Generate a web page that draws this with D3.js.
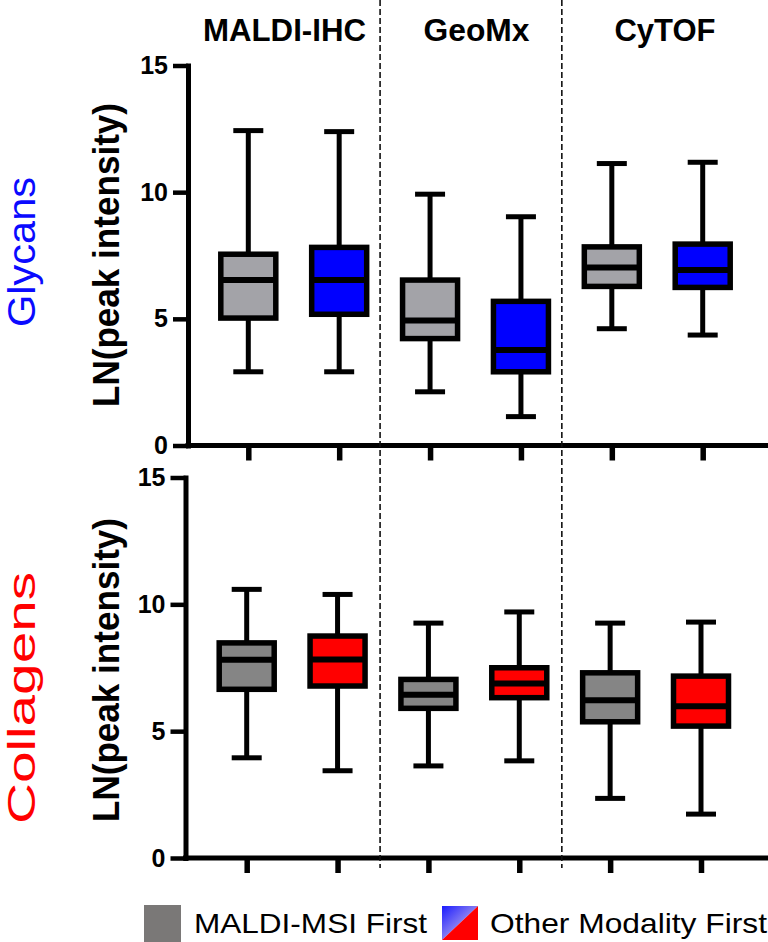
<!DOCTYPE html>
<html><head><meta charset="utf-8">
<script src="https://cdn.jsdelivr.net/npm/d3@7"></script>
<style>body{margin:0;background:#fff}svg{display:block}text{font-family:"Liberation Sans",Arial,sans-serif}</style>
</head><body>
<div id="chart"></div>
<script>
// ---- data ----
const modalities = ["MALDI-IHC", "GeoMx", "CyTOF"];
const orders = ["MALDI-MSI First", "Other Modality First"];
const categories = ["MALDI-IHC|MSI", "MALDI-IHC|Other", "GeoMx|MSI", "GeoMx|Other", "CyTOF|MSI", "CyTOF|Other"];
const panels = ["Glycans", "Collagens"];
const yTicks = [0, 5, 10, 15];

const glycanMin    = [2.91, 2.91, 2.12, 1.14, 4.61, 4.36];
const glycanQ1     = [5.03, 5.18, 4.22, 2.91, 6.28, 6.24];
const glycanMedian = [6.53, 6.53, 4.93, 3.77, 7.03, 6.93];
const glycanQ3     = [7.55, 7.82, 6.53, 5.69, 7.84, 7.95];
const glycanMax    = [12.43, 12.39, 9.92, 9.03, 11.13, 11.18];

const collagenMin    = [3.95, 3.44, 3.63, 3.83, 2.35, 1.73];
const collagenQ1     = [6.65, 6.78, 5.90, 6.32, 5.37, 5.20];
const collagenMedian = [7.82, 7.83, 6.44, 6.88, 6.22, 5.98];
const collagenQ3     = [8.48, 8.75, 7.04, 7.50, 7.30, 7.17];
const collagenMax    = [10.59, 10.39, 9.26, 9.70, 9.26, 9.30];

// ---- layout ----
const W = 768, H = 942;
const svg = d3.select("#chart").append("svg").attr("width", W).attr("height", H);

const defs = svg.append("defs");
const grad = defs.append("linearGradient").attr("id", "blueGrad")
  .attr("x1", "0%").attr("y1", "0%").attr("x2", "60%").attr("y2", "60%");
grad.append("stop").attr("offset", "0%").attr("stop-color", "#1a1aff");
grad.append("stop").attr("offset", "100%").attr("stop-color", "#9a90f0");

const panelCfg = [
  {name: "Glycans", color: "#0a0aff", grayFill: "#a3a3a8", otherFill: "#0000ff",
   yRange: [445.5, 65.5], xRange: [248.3, 702.7], axisX: 188,
   min: glycanMin, q1: glycanQ1, med: glycanMedian, q3: glycanQ3, max: glycanMax,
   nameCenter: 252, nameLen: 150, labelCenter: 255},
  {name: "Collagens", color: "#ff0000", grayFill: "#858585", otherFill: "#ff0000",
   yRange: [858, 477.5], xRange: [246.7, 701], axisX: 185.5,
   min: collagenMin, q1: collagenQ1, med: collagenMedian, q3: collagenQ3, max: collagenMax,
   nameCenter: 698, nameLen: 252, labelCenter: 670}
];

let topX = null;

panelCfg.forEach((p, pi) => {
  const y = d3.scaleLinear().domain([0, 15]).range(p.yRange);
  const x = d3.scalePoint().domain(categories).range(p.xRange);
  if (pi === 0) topX = x;
  const g = svg.append("g");

  // y axis
  const ya = g.append("g").attr("transform", `translate(${p.axisX},0)`)
    .call(d3.axisLeft(y).tickValues(yTicks).tickSize(15).tickSizeOuter(0).tickPadding(5));
  ya.select(".domain").attr("stroke", "#000").attr("stroke-width", 5).attr("stroke-linecap", "square");
  ya.selectAll(".tick line").attr("stroke", "#000").attr("stroke-width", 4.5);
  ya.selectAll(".tick text").attr("fill", "#000").style("font-size", "25px").style("font-weight", "bold")
    .style("font-family", "'Liberation Sans', Arial, sans-serif");

  // x axis
  const xa = g.append("g").attr("transform", `translate(0,${y(0)})`)
    .call(d3.axisBottom(x).tickSize(15).tickSizeOuter(0).tickFormat(""));
  xa.select(".domain").remove();
  xa.selectAll(".tick line").attr("stroke", "#000").attr("stroke-width", 5.5);
  g.append("line").attr("x1", p.axisX).attr("x2", W).attr("y1", y(0)).attr("y2", y(0))
    .attr("stroke", "#000").attr("stroke-width", 5).attr("stroke-linecap", "square");

  // boxes
  const boxW = 55, capW = 30;
  categories.forEach((c, i) => {
    const cx = x(c);
    const isOther = i % 2 === 1;
    const bg = g.append("g");
    bg.append("line").attr("x1", cx).attr("x2", cx).attr("y1", y(p.max[i])).attr("y2", y(p.q3[i]))
      .attr("stroke", "#000").attr("stroke-width", 5);
    bg.append("line").attr("x1", cx).attr("x2", cx).attr("y1", y(p.q1[i])).attr("y2", y(p.min[i]))
      .attr("stroke", "#000").attr("stroke-width", 5);
    [p.max[i], p.min[i]].forEach(v => {
      bg.append("line").attr("x1", cx - capW / 2).attr("x2", cx + capW / 2).attr("y1", y(v)).attr("y2", y(v))
        .attr("stroke", "#000").attr("stroke-width", 5);
    });
    bg.append("rect").attr("x", cx - boxW / 2).attr("width", boxW)
      .attr("y", y(p.q3[i])).attr("height", y(p.q1[i]) - y(p.q3[i]))
      .attr("fill", isOther ? p.otherFill : p.grayFill).attr("stroke", "#000").attr("stroke-width", 5.5);
    bg.append("line").attr("x1", cx - boxW / 2).attr("x2", cx + boxW / 2)
      .attr("y1", y(p.med[i])).attr("y2", y(p.med[i])).attr("stroke", "#000").attr("stroke-width", 6);
  });

  // y label
  g.append("text").attr("transform", `translate(119,${p.labelCenter}) rotate(-90)`)
    .attr("text-anchor", "middle").style("font-size", "36px").style("font-weight", "bold")
    .attr("textLength", 304).attr("lengthAdjust", "spacingAndGlyphs")
    .text("LN(peak intensity)");
  // panel name
  g.append("text").attr("transform", `translate(35,${p.nameCenter}) rotate(-90)`)
    .attr("text-anchor", "middle").attr("fill", p.color).style("font-size", "39px")
    .attr("textLength", p.nameLen).attr("lengthAdjust", "spacingAndGlyphs")
    .text(p.name);
});

// group dividers
const step = topX.step();
[1, 3].forEach(i => {
  const xv = topX(categories[i]) + step * 0.45;
  svg.append("line").attr("x1", xv).attr("x2", xv).attr("y1", 0).attr("y2", 868)
    .attr("stroke", "#111").attr("stroke-width", 1.6).attr("stroke-dasharray", "6,3");
});

// group titles
const titleCenters = [284.5, 476.5, 665];
const titleLens = [163, 106, 101];
modalities.forEach((m, i) => {
  svg.append("text").attr("x", titleCenters[i]).attr("y", 41).attr("text-anchor", "middle")
    .style("font-size", "31px").style("font-weight", "bold")
    .attr("textLength", titleLens[i]).attr("lengthAdjust", "spacingAndGlyphs").text(m);
});

// legend
const lg = svg.append("g");
lg.append("rect").attr("x", 144).attr("y", 905).attr("width", 37).attr("height", 37).attr("fill", "#7a7877");
lg.append("text").attr("x", 194).attr("y", 933).style("font-size", "28px")
  .attr("textLength", 233).attr("lengthAdjust", "spacingAndGlyphs").text(orders[0]);
const sx = 442, sy = 906, sw = 36, sh = 34;
lg.append("path").attr("d", `M${sx},${sy}L${sx + sw},${sy}L${sx},${sy + sh}Z`).attr("fill", "url(#blueGrad)");
lg.append("path").attr("d", `M${sx + sw},${sy}L${sx + sw},${sy + sh}L${sx},${sy + sh}Z`).attr("fill", "#ff0000");
lg.append("text").attr("x", 490).attr("y", 933).style("font-size", "28px")
  .attr("textLength", 277).attr("lengthAdjust", "spacingAndGlyphs").text(orders[1]);
</script>
</body></html>
